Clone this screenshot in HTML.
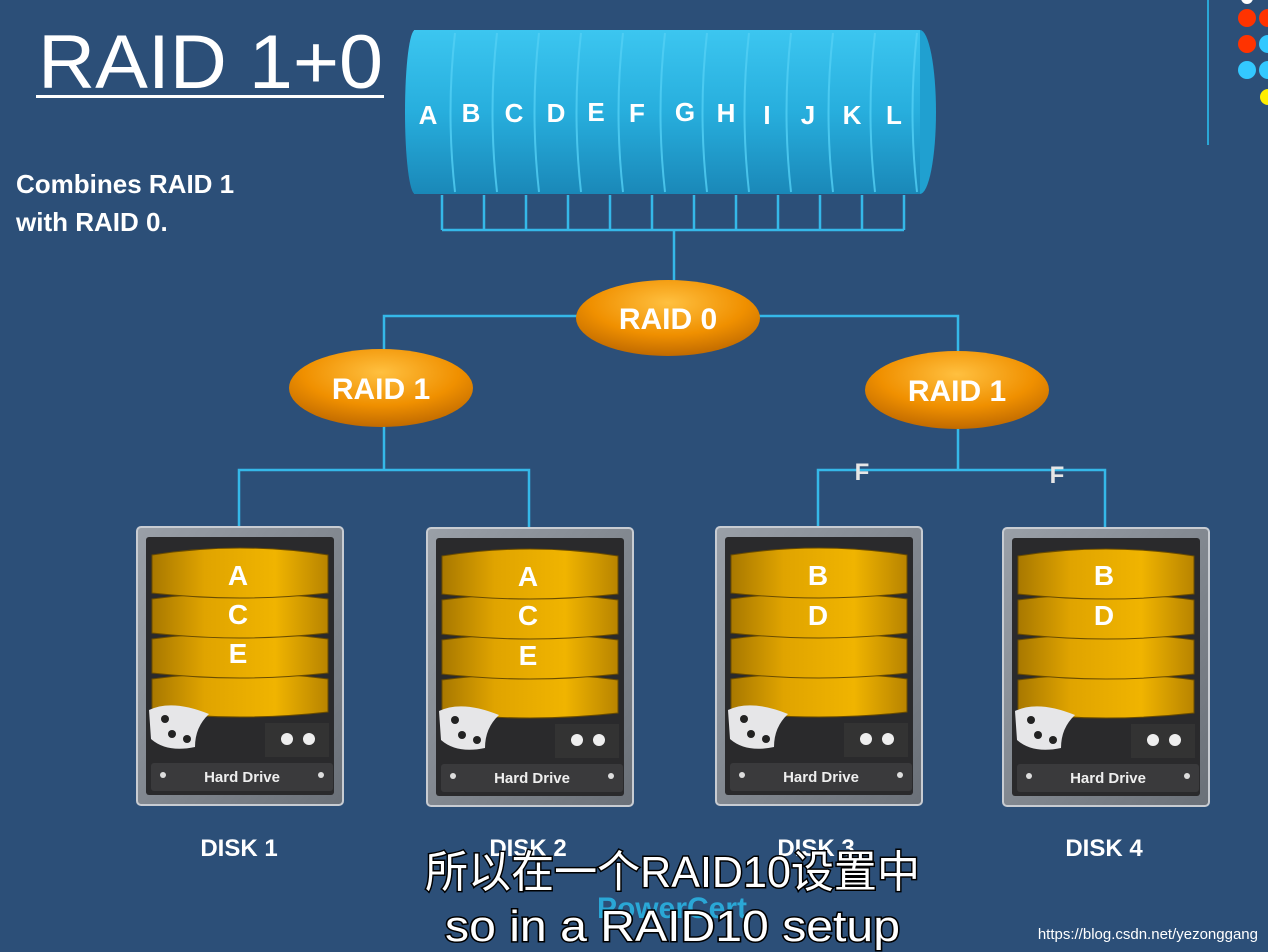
<!DOCTYPE html>
<html><head><meta charset="utf-8"><style>
html,body{margin:0;padding:0;background:#2c4f78;}
svg{display:block}
text{font-family:"Liberation Sans",Arial,sans-serif;font-weight:bold}
</style></head><body>
<svg width="1268" height="952" viewBox="0 0 1268 952" xmlns="http://www.w3.org/2000/svg">
<defs>
<linearGradient id="cyl" x1="0" y1="0" x2="0" y2="1">
<stop offset="0" stop-color="#3cc6f0"/><stop offset="0.5" stop-color="#27aedd"/><stop offset="1" stop-color="#1a88b8"/></linearGradient>
<linearGradient id="gold" x1="0" y1="0" x2="1" y2="0">
<stop offset="0" stop-color="#a87800"/><stop offset="0.3" stop-color="#e0a400"/><stop offset="0.7" stop-color="#f0b400"/><stop offset="1" stop-color="#b88400"/></linearGradient>
<radialGradient id="orange" cx="0.5" cy="0.3" r="0.7">
<stop offset="0" stop-color="#ffc040"/><stop offset="0.6" stop-color="#f09000"/><stop offset="1" stop-color="#c06a00"/></radialGradient>
<linearGradient id="frame" x1="0" y1="0" x2="1" y2="1">
<stop offset="0" stop-color="#9aa0a8"/><stop offset="1" stop-color="#6a7078"/></linearGradient>
<g id="drive">
<rect x="0" y="0" width="206" height="278" rx="4" fill="url(#frame)" stroke="#c8ccd2" stroke-width="2"/>
<rect x="9" y="10" width="188" height="258" rx="3" fill="#2a2a2c"/>
<g fill="url(#gold)" stroke="#6a4c00" stroke-width="1">
<path d="M15 152 Q103 140 191 152 L191 185 Q103 195 15 185 Z"/>
<path d="M15 112 Q103 100 191 112 L191 146 Q103 156 15 146 Z"/>
<path d="M15 72 Q103 60 191 72 L191 106 Q103 116 15 106 Z"/>
<path d="M15 28 Q103 14 191 28 L191 66 Q103 76 15 66 Z"/>
</g>
<path d="M12 183 Q35 172 72 187 Q58 200 58 220 Q30 226 14 212 Z" fill="#e6e6e8"/>
<circle cx="28" cy="192" r="4" fill="#222"/><circle cx="35" cy="207" r="4" fill="#222"/><circle cx="50" cy="212" r="4" fill="#222"/>
<rect x="128" y="196" width="64" height="34" fill="#333"/>
<circle cx="150" cy="212" r="6" fill="#eee"/><circle cx="172" cy="212" r="6" fill="#eee"/>
<rect x="14" y="236" width="182" height="28" rx="3" fill="#3a3a3c"/>
<circle cx="26" cy="248" r="3" fill="#ddd"/><circle cx="184" cy="248" r="3" fill="#ddd"/>
<text x="105" y="255" font-size="15" fill="#eee" text-anchor="middle">Hard Drive</text>
</g>
</defs>
<rect width="1268" height="952" fill="#2c4f78"/>
<text x="38" y="88" font-size="76" fill="#fff" textLength="345" lengthAdjust="spacingAndGlyphs" style="font-weight:normal">RAID 1+0</text>
<rect x="36" y="95" width="348" height="3" fill="#fff"/>
<text x="16" y="193" font-size="26" fill="#fff">Combines RAID 1</text>
<text x="16" y="231" font-size="26" fill="#fff">with RAID 0.</text>
<rect x="1207" y="0" width="2" height="145" fill="#2aa7d6"/>
<circle cx="1247" cy="-2" r="6" fill="#fff"/>
<circle cx="1247" cy="18" r="9" fill="#ff3300"/><circle cx="1268" cy="18" r="9" fill="#ff3300"/>
<circle cx="1247" cy="44" r="9" fill="#ff3300"/><circle cx="1268" cy="44" r="9" fill="#33c8ff"/>
<circle cx="1247" cy="70" r="9" fill="#33c8ff"/><circle cx="1268" cy="70" r="9" fill="#33c8ff"/>
<circle cx="1268" cy="97" r="8" fill="#ffee00"/>
<g>
<ellipse cx="920" cy="112" rx="16" ry="82" fill="#20a0d0"/>
<rect x="414" y="30" width="506" height="164" fill="url(#cyl)"/>
<ellipse cx="415" cy="112" rx="10" ry="82" fill="url(#cyl)"/>
<g stroke="#53d0f5" stroke-width="2" fill="none" opacity="0.8">
<path d="M455 33 Q446 112 455 192"/><path d="M497 33 Q488 112 497 192"/><path d="M539 33 Q530 112 539 192"/>
<path d="M581 33 Q572 112 581 192"/><path d="M623 33 Q614 112 623 192"/><path d="M665 33 Q656 112 665 192"/>
<path d="M707 33 Q698 112 707 192"/><path d="M749 33 Q740 112 749 192"/><path d="M791 33 Q782 112 791 192"/>
<path d="M833 33 Q824 112 833 192"/><path d="M875 33 Q866 112 875 192"/><path d="M917 33 Q908 112 917 192"/>
</g>
<g font-size="26" fill="#fff" text-anchor="middle">
<text x="428" y="124">A</text><text x="471" y="122">B</text><text x="514" y="122">C</text><text x="556" y="122">D</text>
<text x="596" y="121">E</text><text x="637" y="122">F</text><text x="685" y="121">G</text><text x="726" y="122">H</text>
<text x="767" y="124">I</text><text x="808" y="124">J</text><text x="852" y="124">K</text><text x="894" y="124">L</text>
</g>
</g>
<g stroke="#35b8e8" stroke-width="2.5" fill="none">
<path d="M442 195V230M484 195V230M526 195V230M568 195V230M610 195V230M652 195V230M694 195V230M736 195V230M778 195V230M820 195V230M862 195V230M904 195V230"/>
<path d="M442 230H904M674 230V282"/>
<path d="M384 352V316H580M758 316H958V352"/>
<path d="M384 426V470M239 527V470H529V527"/>
<path d="M958 428V470M818 527V470H1105V527"/>
</g>
<ellipse cx="668" cy="318" rx="92" ry="38" fill="url(#orange)"/>
<text x="668" y="329" font-size="30" fill="#fff" text-anchor="middle">RAID 0</text>
<ellipse cx="381" cy="388" rx="92" ry="39" fill="url(#orange)"/>
<text x="381" y="399" font-size="30" fill="#fff" text-anchor="middle">RAID 1</text>
<ellipse cx="957" cy="390" rx="92" ry="39" fill="url(#orange)"/>
<text x="957" y="401" font-size="30" fill="#fff" text-anchor="middle">RAID 1</text>
<text x="862" y="480" font-size="24" fill="#e6e6e6" text-anchor="middle">F</text>
<text x="1057" y="483" font-size="24" fill="#e6e6e6" text-anchor="middle">F</text>
<use href="#drive" x="137" y="527"/>
<use href="#drive" x="427" y="528"/>
<use href="#drive" x="716" y="527"/>
<use href="#drive" x="1003" y="528"/>
<g font-size="28" fill="#fff" text-anchor="middle">
<text x="238" y="585">A</text><text x="238" y="624">C</text><text x="238" y="663">E</text>
<text x="528" y="586">A</text><text x="528" y="625">C</text><text x="528" y="665">E</text>
<text x="818" y="585">B</text><text x="818" y="625">D</text>
<text x="1104" y="585">B</text><text x="1104" y="625">D</text>
</g>
<g font-size="24" fill="#fff" text-anchor="middle">
<text x="239" y="856">DISK 1</text><text x="528" y="856">DISK 2</text>
<text x="816" y="856">DISK 3</text><text x="1104" y="856">DISK 4</text>
</g>
<text x="672" y="918" font-size="30" fill="#2aa7d6" text-anchor="middle">PowerCert</text>
<g font-size="44" fill="#fff" stroke="#000" stroke-width="3" paint-order="stroke" style="font-weight:normal;font-family:'Liberation Sans','Noto Sans CJK SC',sans-serif">
<text x="425" y="887" textLength="495" lengthAdjust="spacingAndGlyphs" style="font-weight:normal">所以在一个RAID10设置中</text>
<text x="445" y="941" textLength="455" lengthAdjust="spacingAndGlyphs" style="font-weight:normal">so in a RAID10 setup</text>
</g>
<text x="1258" y="939" font-size="15" fill="#fff" text-anchor="end" style="font-weight:normal">https://blog.csdn.net/yezonggang</text>
</svg>
</body></html>
